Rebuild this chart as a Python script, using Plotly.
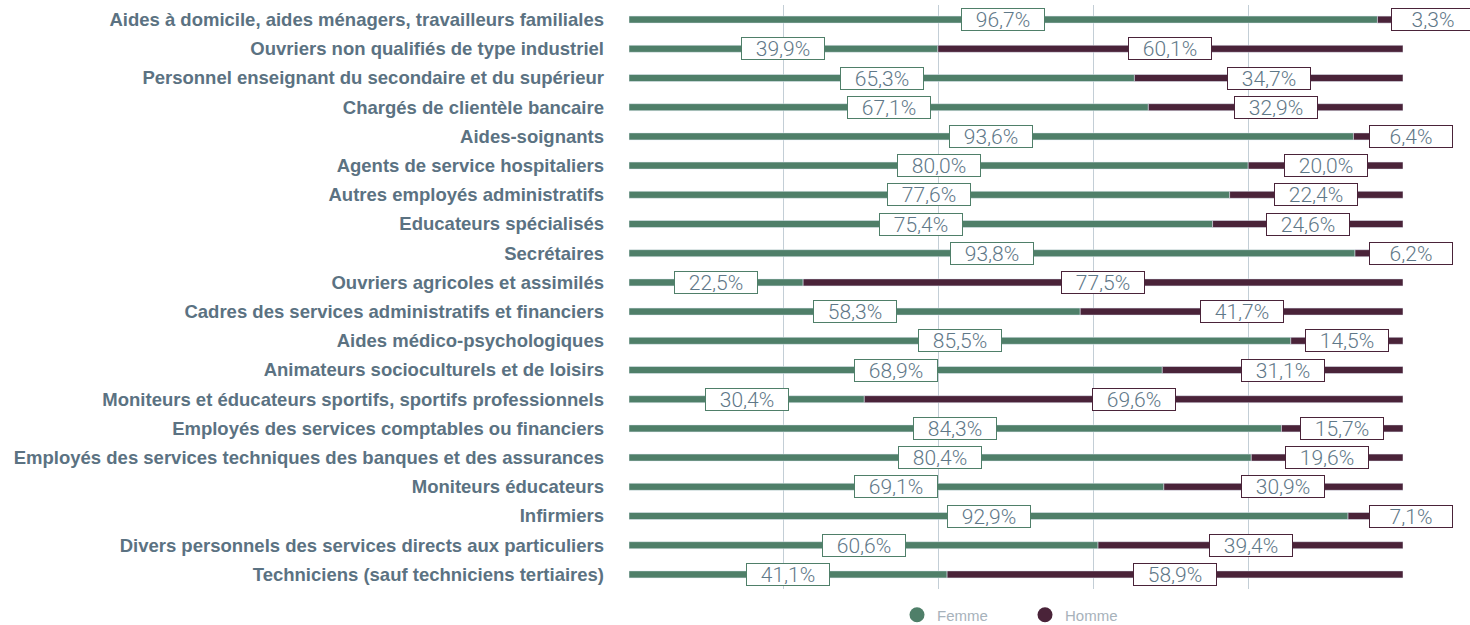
import plotly.graph_objects as go

categories = [
    "Aides à domicile, aides ménagers, travailleurs familiales",
    "Ouvriers non qualifiés de type industriel",
    "Personnel enseignant du secondaire et du supérieur",
    "Chargés de clientèle bancaire",
    "Aides-soignants",
    "Agents de service hospitaliers",
    "Autres employés administratifs",
    "Educateurs spécialisés",
    "Secrétaires",
    "Ouvriers agricoles et assimilés",
    "Cadres des services administratifs et financiers",
    "Aides médico-psychologiques",
    "Animateurs socioculturels et de loisirs",
    "Moniteurs et éducateurs sportifs, sportifs professionnels",
    "Employés des services comptables ou financiers",
    "Employés des services techniques des banques et des assurances",
    "Moniteurs éducateurs",
    "Infirmiers",
    "Divers personnels des services directs aux particuliers",
    "Techniciens (sauf techniciens tertiaires)",
]
femme = [96.7, 39.9, 65.3, 67.1, 93.6, 80.0, 77.6, 75.4, 93.8, 22.5,
         58.3, 85.5, 68.9, 30.4, 84.3, 80.4, 69.1, 92.9, 60.6, 41.1]
homme = [3.3, 60.1, 34.7, 32.9, 6.4, 20.0, 22.4, 24.6, 6.2, 77.5,
         41.7, 14.5, 31.1, 69.6, 15.7, 19.6, 30.9, 7.1, 39.4, 58.9]

GREEN = "#4f7f69"
PURPLE = "#4a2339"
LABEL_COLOR = "#5f7888"

W, H = 1470, 625
ML, MR, MT, MB = 629, 67, 5, 36
plot_w = W - ML - MR
plot_h = H - MT - MB
BOX_W = 84
box_w_data = BOX_W / plot_w * 100


def fmt(v):
    return f"{v:.1f}".replace(".", ",") + "%"


fig = go.Figure()
fig.add_trace(go.Bar(y=categories, x=femme, orientation="h", name="Femme",
                     marker_color=GREEN, showlegend=False, hoverinfo="skip"))
fig.add_trace(go.Bar(y=categories, x=homme, orientation="h", name="Homme",
                     marker_color=PURPLE, showlegend=False, base=femme,
                     hoverinfo="skip"))
# legend entries (circles)
fig.add_trace(go.Scatter(x=[None], y=[None], mode="markers", name="Femme",
                         marker=dict(color=GREEN, size=15, symbol="circle")))
fig.add_trace(go.Scatter(x=[None], y=[None], mode="markers", name="Homme",
                         marker=dict(color=PURPLE, size=15, symbol="circle")))

annotations = []
for c, f, h in zip(categories, femme, homme):
    common = dict(y=c, yref="y", xref="x", showarrow=False, yanchor="middle",
                  font=dict(family="Roboto, Liberation Sans, Arial", size=21,
                            color=LABEL_COLOR, weight=300),
                  bgcolor="white", borderwidth=1, borderpad=1,
                  width=BOX_W - 4, height=19, align="center")
    annotations.append(dict(x=f / 2, xanchor="center", text=fmt(f),
                            bordercolor=GREEN, **common))
    if h >= box_w_data:
        annotations.append(dict(x=f + h / 2, xanchor="center", text=fmt(h),
                                bordercolor=PURPLE, **common))
    else:
        left = max(f + 14 / plot_w * 100, 100 - 34 / plot_w * 100)
        annotations.append(dict(x=left, xanchor="left", text=fmt(h),
                                bordercolor=PURPLE, **common))

fig.update_layout(
    width=W, height=H,
    margin=dict(l=ML, r=MR, t=MT, b=MB, autoexpand=False),
    barmode="overlay",
    bargap=0.76,
    plot_bgcolor="white", paper_bgcolor="white",
    annotations=annotations,
    showlegend=True,
    legend=dict(orientation="h", x=0.5 + 9 / plot_w, xanchor="center",
                y=-(26 / plot_h), yanchor="middle",
                entrywidth=83, entrywidthmode="pixels",
                font=dict(family="Liberation Sans, Arial", size=15,
                          color="#a7b2bb")),
    xaxis=dict(range=[0, 100], dtick=20, tick0=0, showgrid=True,
               gridcolor="#c3ced6", gridwidth=1, zeroline=False,
               showticklabels=False, showline=False, fixedrange=True),
    yaxis=dict(type="category", autorange="reversed", showgrid=False,
               ticks="", ticklabelstandoff=24, fixedrange=True,
               tickfont=dict(family="Liberation Sans, Arial", size=18.5,
                             color="#5b7282", weight="bold")),
)

fig.write_html("out.html", config={"displayModeBar": False},
               post_script="document.body.style.margin='0';")
